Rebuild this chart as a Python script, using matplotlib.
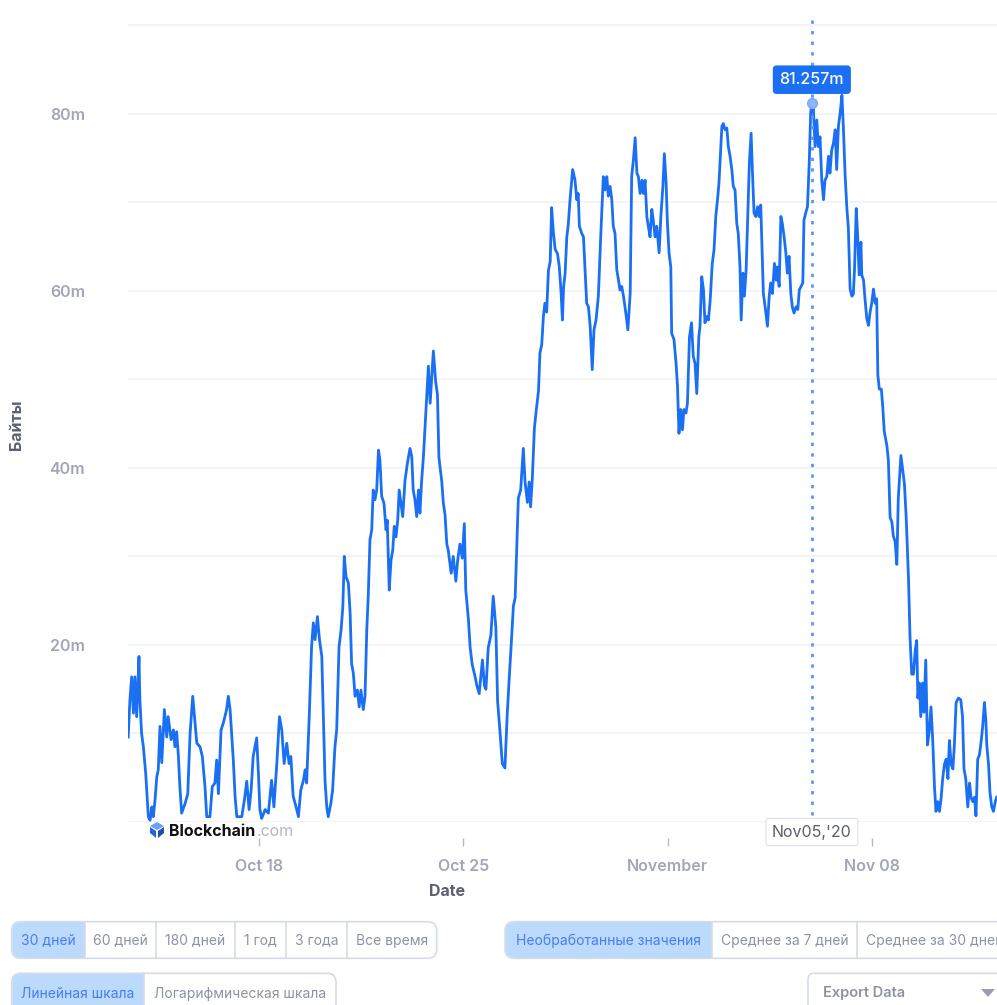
import matplotlib
matplotlib.use('Agg')
import matplotlib.pyplot as plt
from matplotlib.patches import FancyBboxPatch, Rectangle, Polygon
from datetime import datetime, timedelta

plt.rcParams['font.family'] = ['Inter', 'DejaVu Sans']

# ---------------- data ----------------
base_date = datetime(2020, 10, 13)
# time in days after Oct 13 2020 00:00
day_offsets = [
    0.52, 0.58, 0.64, 0.70, 0.75, 0.81, 0.89, 0.92, 0.98, 1.04, 1.12, 1.21, 1.27, 1.33, 1.38, 1.44,
    1.50, 1.55, 1.61, 1.67, 1.76, 1.84, 1.89, 1.99, 2.07, 2.12, 2.18, 2.24, 2.29, 2.35, 2.47, 2.56,
    2.64, 2.73, 2.81, 2.87, 2.98, 3.06, 3.15, 3.21, 3.32, 3.40, 3.49, 3.55, 3.61, 3.70, 3.78, 3.89,
    3.95, 4.01, 4.07, 4.12, 4.18, 4.24, 4.41, 4.50, 4.58, 4.66, 4.73, 4.80, 4.92, 4.98, 5.03, 5.09,
    5.21, 5.32, 5.43, 5.51,
    5.61, 5.70, 5.78, 5.86, 5.95, 6.03, 6.09, 6.17, 6.27, 6.35, 6.43, 6.52, 6.58, 6.63, 6.72, 6.80,
    6.86, 6.92, 7.00, 7.07, 7.15, 7.20, 7.26, 7.32, 7.37, 7.46, 7.52, 7.60, 7.66, 7.74, 7.81, 7.87,
    7.92, 7.98, 8.06, 8.12, 8.17, 8.23, 8.29, 8.37, 8.43, 8.49, 8.57, 8.63, 8.69, 8.74, 8.80, 8.86,
    8.91, 8.97, 9.03, 9.09, 9.14, 9.20, 9.28, 9.35, 9.39, 9.46, 9.52, 9.58, 9.63, 9.69, 9.75, 9.80,
    9.86, 9.92, 10.00, 10.08, 10.17, 10.23, 10.28, 10.34, 10.40, 10.46, 10.51, 10.57, 10.63,
    10.74, 10.80, 10.86, 10.97, 11.05, 11.11, 11.16, 11.26, 11.31, 11.37, 11.43, 11.48, 11.58, 11.65,
    11.74, 11.80, 11.88, 11.96, 12.03, 12.08, 12.17, 12.23, 12.30, 12.40, 12.46, 12.54, 12.65, 12.72,
    12.77, 12.85, 12.94, 13.02, 13.11, 13.17, 13.25, 13.33, 13.42, 13.50, 13.57, 13.63, 13.71, 13.77,
    13.83, 13.88, 13.96, 14.05, 14.11, 14.19, 14.25, 14.30, 14.36, 14.43, 14.49, 14.57, 14.62, 14.68,
    14.74, 14.79, 14.85, 14.91, 14.97, 15.02, 15.08, 15.14, 15.22, 15.28, 15.34, 15.39, 15.43, 15.48,
    15.54, 15.59, 15.65,
    15.74, 15.82, 15.88, 15.93, 15.97, 16.05, 16.11, 16.16, 16.22, 16.28, 16.34, 16.41, 16.47, 16.54,
    16.62, 16.70, 16.79, 16.85, 16.91, 16.96, 17.02, 17.08, 17.13, 17.19, 17.25, 17.31, 17.36, 17.42,
    17.48, 17.56, 17.63, 17.71, 17.76, 17.82, 17.88, 17.94, 17.99, 18.05, 18.11, 18.16, 18.22, 18.28,
    18.33, 18.39, 18.45, 18.50, 18.56, 18.62, 18.70, 18.76, 18.83, 18.88, 18.94, 18.98, 19.04, 19.10,
    19.13, 19.21, 19.28, 19.33, 19.38, 19.44, 19.50, 19.55, 19.62, 19.67, 19.74, 19.81, 19.87, 19.93,
    19.99, 20.06, 20.10, 20.16, 20.22, 20.27, 20.33, 20.39, 20.45, 20.52, 20.58, 20.64, 20.70, 20.75,
    20.85, 20.90, 20.96, 21.02, 21.07, 21.13, 21.19, 21.24, 21.30, 21.36, 21.41, 21.47, 21.51, 21.57,
    21.62, 21.68, 21.74, 21.79, 21.85, 21.89, 21.95, 22.01, 22.07, 22.12, 22.18, 22.23, 22.27, 22.33,
    22.41, 22.47, 22.52, 22.58, 22.65, 22.71, 22.75, 22.81, 22.87, 22.92, 22.98, 23.04, 23.09, 23.15,
    23.21, 23.26, 23.32, 23.39, 23.45, 23.50, 23.56, 23.62, 23.66, 23.72, 23.78, 23.84, 23.89, 23.93,
    23.98, 24.04, 24.10, 24.15, 24.21, 24.27, 24.33, 24.38, 24.44, 24.50, 24.55, 24.61, 24.67, 24.73,
    24.78, 24.84, 24.90, 24.96,
    25.01, 25.07, 25.13, 25.18, 25.24, 25.30, 25.35, 25.39, 25.45, 25.50, 25.55, 25.61, 25.64, 25.70,
    25.75, 25.81, 25.87, 25.92, 25.98, 26.04, 26.10, 26.15, 26.19, 26.24, 26.31, 26.36, 26.41, 26.50,
    26.55, 26.61, 26.67, 26.72, 26.78, 26.84, 26.89, 26.98, 27.04, 27.10, 27.16, 27.24, 27.29, 27.35,
    27.41, 27.47, 27.52, 27.56, 27.61, 27.66, 27.72, 27.77, 27.83, 27.89, 27.95, 28.01, 28.07, 28.13,
    28.18, 28.24, 28.30, 28.36, 28.41, 28.47, 28.53, 28.59, 28.64, 28.70, 28.76, 28.81, 28.87, 28.95,
    29.03, 29.09, 29.14, 29.20, 29.27, 29.33, 29.38, 29.44, 29.50, 29.55, 29.61, 29.67, 29.73, 29.78,
    29.84, 29.89, 29.92, 29.98, 30.03, 30.09, 30.15, 30.21, 30.26,
]
# mempool size, millions of bytes
mempool_m = [
    9.6, 13.8, 16.4, 12.3, 16.4, 11.9, 18.7, 13.8, 10.0, 8.5, 5.5, 0.6, 0.2, 1.7, 0.6, 2.5,
    5.1, 5.9, 10.8, 6.7, 12.7, 9.6, 11.9, 9.3, 10.4, 8.5, 10.2, 7.4, 4.0, 1.0, 2.1, 3.2,
    10.0, 14.2, 11.2, 8.9, 8.5, 7.4, 4.0, 0.6, 0.6, 4.0, 4.4, 7.0, 3.2, 10.4, 11.2, 12.7,
    14.2, 12.7, 9.6, 7.0, 2.9, 0.6, 0.6, 2.5, 4.6, 1.4, 3.6, 7.4, 9.5, 5.5, 1.4, 0.4,
    1.4, 1.0, 4.7, 1.7,
    6.6, 11.9, 10.4, 6.6, 8.9, 6.6, 7.4, 2.9, 1.7, 0.6, 3.6, 4.7, 5.9, 4.4, 11.9, 19.8,
    22.5, 20.6, 23.2, 20.6, 18.7, 12.3, 4.7, 1.7, 0.6, 2.1, 3.6, 8.5, 10.4, 19.8, 21.7, 24.3,
    30.0, 27.7, 27.0, 23.6, 17.9, 16.8, 14.2, 14.9, 13.0, 14.9, 12.7, 14.2, 21.7, 25.5, 31.9, 33.0,
    37.5, 36.4, 37.5, 42.0, 40.9, 36.8, 36.0, 33.0, 34.1, 26.2, 29.6, 30.7, 33.4, 32.2, 34.1, 37.5,
    36.0, 34.5, 38.6, 40.5, 42.2, 41.3, 37.5, 36.4, 34.5, 37.5, 34.9, 38.6, 41.3,
    47.8, 51.5, 47.3, 53.2, 49.7, 48.3, 41.2, 38.4, 36.1, 34.7, 31.4, 30.7, 28.1, 30.0,
    27.2, 29.5, 31.4, 29.8, 33.7, 26.2, 22.9, 19.7, 17.8, 16.4, 15.4, 14.5, 18.3, 15.4,
    15.0, 19.7, 21.1, 25.5, 22.0, 13.6, 10.3, 6.6, 6.1, 12.2, 16.4, 19.7, 24.4, 25.3,
    31.4, 36.6, 37.5, 42.2, 38.4, 36.1, 38.4, 35.6, 38.9, 44.5, 46.4, 48.7, 53.0, 53.9,
    57.2, 58.6, 57.6, 62.3, 63.3, 69.4, 66.6, 64.7, 64.2, 62.8, 60.0, 56.7, 60.5, 61.9,
    66.1, 67.5, 70.3,
    73.7, 72.5, 70.3, 71.0, 67.3, 66.5, 66.1, 62.7, 58.6, 58.2, 56.0, 51.1, 55.6, 56.7,
    59.4, 66.1, 72.9, 71.4, 72.9, 70.7, 71.8, 70.3, 67.3, 66.5, 62.4, 61.2, 60.1, 60.5,
    59.4, 57.5, 55.6, 59.7, 72.9, 74.8, 77.3, 73.3, 72.9, 71.0, 72.5, 71.0, 72.5, 68.4,
    67.3, 66.1, 69.2, 68.0, 66.1, 67.3, 64.3, 68.4, 71.8, 75.5, 72.2, 68.0, 64.3, 62.7,
    55.2, 54.5, 51.8, 49.2, 43.9, 46.6, 44.3, 46.6, 46.2, 47.3, 54.8, 56.4, 52.6, 51.8,
    48.4, 54.8, 56.0, 61.6, 60.1, 56.4, 57.1, 56.7, 59.0, 63.1, 64.6, 68.4, 70.3, 72.2,
    78.6, 78.9, 78.2, 78.4, 76.3, 75.2, 73.7, 71.8, 71.4, 67.6, 66.5, 62.7, 56.7, 62.0,
    59.4, 62.4, 68.8, 74.4, 77.8, 74.0, 68.8, 68.4, 69.5, 68.4, 69.7, 63.9, 59.7, 58.2,
    56.0, 59.4, 60.9, 59.7, 63.1, 61.2, 62.7, 60.5, 68.4, 67.6, 66.1, 64.3, 62.0, 63.9,
    59.7, 58.2, 57.5, 58.2, 57.9, 60.1, 60.5, 60.9, 68.0, 68.8, 69.5, 74.4, 80.1, 81.257,
    80.8, 76.3, 79.3, 76.3, 77.4, 72.5, 70.3, 72.5, 72.9, 75.2, 73.3, 75.9, 76.7, 78.2,
    73.7, 78.6, 80.1, 82.1,
    78.4, 73.0, 69.3, 67.1, 60.2, 59.4, 59.6, 62.3, 69.3, 66.1, 61.8, 65.5, 61.8, 61.2,
    59.1, 56.9, 56.1, 57.5, 58.6, 60.2, 58.6, 59.1, 50.5, 48.9, 48.9, 46.8, 44.1, 42.5,
    40.9, 34.4, 33.9, 32.3, 31.7, 29.1, 36.6, 41.4, 39.8, 38.2, 34.4, 27.5, 21.0, 16.7,
    16.7, 19.4, 20.5, 14.0, 15.7, 11.9, 15.7, 12.4, 18.3, 8.7, 10.3, 13.0, 9.2, 3.9,
    1.2, 2.3, 1.2, 2.8, 4.9, 6.5, 7.1, 4.9, 9.2, 6.5, 6.0, 8.7, 13.5, 14.0,
    13.8, 11.9, 6.0, 4.9, 1.7, 4.4, 2.8, 2.3, 2.8, 0.7, 7.1, 7.6, 9.2, 10.8,
    13.5, 11.4, 8.7, 6.5, 3.3, 1.7, 1.2, 2.3, 2.8,
]
hover_day = 23.93
hover_value = 81.257
hover_label = "Nov05,'20"
x_start_day = 0.514
x_end_day = 30.27

x_tick_dates = [datetime(2020, 10, 18), datetime(2020, 10, 25), datetime(2020, 11, 1), datetime(2020, 11, 8)]
x_tick_labels = ['Oct 18', 'Oct 25', 'November', 'Nov 08']
y_tick_values = [20, 40, 60, 80]
y_tick_labels = ['20m', '40m', '60m', '80m']
grid_values = [0, 10, 20, 30, 40, 50, 60, 70, 80, 90]

range_buttons = ['30 дней', '60 дней', '180 дней', '1 год', '3 года', 'Все время']
scale_buttons = ['Линейная шкала', 'Логарифмическая шкала']
average_buttons = ['Необработанные значения', 'Среднее за 7 дней', 'Среднее за 30 дней']

# ---------------- style ----------------
LINE = '#1a6ff2'
TICK = '#a2a6b8'
LABEL = '#5c6070'
GRID = '#f1f2f5'
W, H = 997, 1005

times = [base_date + timedelta(days=d) for d in day_offsets]
hover_time = base_date + timedelta(days=hover_day)

fig = plt.figure(figsize=(W / 100, H / 100), dpi=100)
fig.patch.set_facecolor('white')

# overlay for UI elements (pixel coordinates)
ov = fig.add_axes([0, 0, 1, 1], zorder=0)
ov.set_xlim(0, W)
ov.set_ylim(H, 0)
ov.axis('off')

ax = fig.add_axes([128 / W, 1 - 822 / H, 1 - 128 / W, (822 - 12) / H], zorder=1)
ax.set_facecolor('none')
for v in grid_values:
    ax.axhline(v, color=GRID, lw=1.2, zorder=0)
ax.plot(times, mempool_m, color=LINE, lw=2.0, solid_joinstyle='round', zorder=3)

ax.set_xlim(base_date + timedelta(days=x_start_day), base_date + timedelta(days=x_end_day))
ax.set_ylim(0, 91.5)
for s in ['top', 'right', 'left']:
    ax.spines[s].set_visible(False)
ax.spines['bottom'].set_position(('outward', 11.5))
ax.spines['bottom'].set_visible(False)

ax.set_yticks(y_tick_values)
ax.set_yticklabels(y_tick_labels)
ax.tick_params(axis='y', length=0, pad=31, labelsize=11.5, labelcolor=TICK)
for t in ax.get_yticklabels():
    t.set_fontweight('semibold')
    t.set_y(t.get_position()[1])

ax.set_xticks(x_tick_dates)
ax.set_xticklabels(x_tick_labels)
ax.tick_params(axis='x', length=5.5, width=1, color='#b8bcc8', pad=9.5, labelsize=11.5, labelcolor=TICK)
for t in ax.get_xticklabels():
    t.set_fontweight('semibold')

# hover indicator
ax.plot([hover_time, hover_time], [0.8, 91.2], color='#5b97f4', lw=2.0,
        ls=(0, (1.2, 2.6)), dash_capstyle='butt', zorder=4)
ax.plot([hover_time], [hover_value], 'o', ms=7, color='#8ab6f8', mec='#7aa9f6', zorder=5)
ax.annotate(f'{hover_value:.3f}m', xy=(hover_time, hover_value), xytext=(0, 23),
            textcoords='offset pixels', ha='center', va='center', color='white',
            fontsize=11.5, fontweight='medium', zorder=6,
            bbox=dict(boxstyle='round,pad=0.38,rounding_size=0.18', fc='#1a6ff2', ec='#1a6ff2'))
ax.annotate(hover_label, xy=(hover_time, 0), xytext=(0, -10),
            textcoords='offset pixels', ha='center', va='center', color='#5c5f66',
            fontsize=11.5, zorder=6, annotation_clip=False,
            bbox=dict(boxstyle='round,pad=0.38,rounding_size=0.15', fc='white', ec='#e4e6eb', lw=1))

# axis titles
fig.text(447 / W, 1 - 891 / H, 'Date', ha='center', va='center', fontsize=11.5,
         fontweight='bold', color=LABEL)
fig.text(17 / W, 1 - 425 / H, 'Байты', ha='center', va='center', rotation=90,
         fontsize=11.5, fontweight='bold', color=LABEL)

# Blockchain.com watermark
cx, cy = 157, 830
ov.add_patch(Polygon([[cx - 7, cy - 4], [cx, cy - 8], [cx + 7, cy - 4], [cx, cy]],
                     closed=True, fc='#6aa0f5', ec='none'))
ov.add_patch(Polygon([[cx - 7, cy - 3], [cx - 1, cy + 1], [cx - 1, cy + 8], [cx - 7, cy + 3]],
                     closed=True, fc='#2563d8', ec='none'))
ov.add_patch(Polygon([[cx + 7, cy - 3], [cx + 1, cy + 1], [cx + 1, cy + 8], [cx + 7, cy + 3]],
                     closed=True, fc='#1d4fb8', ec='none'))
ov.text(169, 831, 'Blockchain', ha='left', va='center', fontsize=11.5,
        fontweight='bold', color='#111111')
ov.text(257, 831, '.com', ha='left', va='center', fontsize=11.5, color='#b4b8c4')

# ---------------- buttons ----------------
BORDER = '#d7dbe4'
ACT_FILL = '#bcdafb'
ACT_TEXT = '#4a7df0'
IN_TEXT = '#8e92a4'


def button_group(edges, y0, y1, labels, active=0, fs=10, last_left=None):
    x0, x1 = edges[0], edges[-1]
    ov.add_patch(FancyBboxPatch((x0, y0), x1 - x0, y1 - y0,
                                boxstyle='round,pad=0,rounding_size=9',
                                fc='white', ec=BORDER, lw=1.2, zorder=1))
    a0, a1 = edges[active], edges[active + 1]
    ov.add_patch(FancyBboxPatch((a0 + 0.6, y0 + 0.6), a1 - a0 - 0.6, y1 - y0 - 1.2,
                                boxstyle='round,pad=0,rounding_size=9',
                                fc=ACT_FILL, ec='none', zorder=2))
    ov.add_patch(Rectangle((a0 + 12, y0 + 0.6), a1 - a0 - 12, y1 - y0 - 1.2,
                           fc=ACT_FILL, ec='none', zorder=2))
    for e in edges[1:-1]:
        ov.plot([e, e], [y0, y1], color=BORDER, lw=1.2, zorder=3)
    for i, lab in enumerate(labels):
        col = ACT_TEXT if i == active else IN_TEXT
        if last_left is not None and i == len(labels) - 1:
            ov.text(last_left, (y0 + y1) / 2 + 0.5, lab, ha='left', va='center', fontsize=fs,
                    color=col, zorder=4)
        else:
            xc = (edges[i] + edges[i + 1]) / 2
            ov.text(xc, (y0 + y1) / 2 + 0.5, lab, ha='center', va='center', fontsize=fs,
                    color=col, zorder=4)


button_group([11.7, 85, 155.7, 235, 285.7, 347.3, 436.7], 921.7, 958.3, range_buttons)
button_group([11.7, 144, 336], 973.3, 1013, scale_buttons)
button_group([505, 712, 857.3, 1020], 921.7, 958.3, average_buttons, last_left=866)

# Export data box
ov.add_patch(FancyBboxPatch((808, 973.3), 260, 40, boxstyle='round,pad=0,rounding_size=6',
                            fc='white', ec=BORDER, lw=1.2, zorder=1))
ov.text(823, 993, 'Export Data', ha='left', va='center', fontsize=10.5,
        fontweight='semibold', color=IN_TEXT, zorder=4)
ov.add_patch(Polygon([[981, 989], [995, 989], [988, 997]], closed=True, fc='#9a9eae', ec='none', zorder=4))

fig.savefig('out.png', dpi=100, facecolor='white')
